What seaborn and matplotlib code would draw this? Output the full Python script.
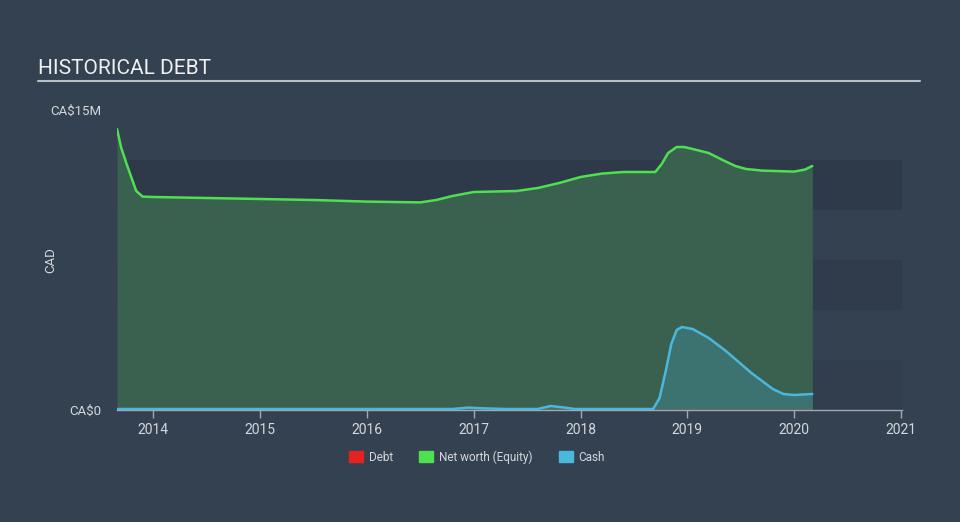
import matplotlib
matplotlib.use("Agg")
import matplotlib.pyplot as plt
import matplotlib.patches as mpatches
import seaborn as sns
import pandas as pd

# ---- data (values in CA$ millions) ----
nw_x = [2013.66, 2013.70, 2013.75, 2013.80, 2013.84, 2013.90, 2014.0, 2014.5, 2015.0,
        2015.5, 2016.0, 2016.5, 2016.65, 2016.8, 2017.0, 2017.4, 2017.6, 2017.8, 2018.0,
        2018.2, 2018.4, 2018.7, 2018.76, 2018.82, 2018.9, 2018.97, 2019.05, 2019.2,
        2019.35, 2019.45, 2019.55, 2019.7, 2020.0, 2020.1, 2020.17]
nw_y = [14.05, 13.1, 12.3, 11.55, 10.95, 10.67, 10.65, 10.6, 10.55,
        10.5, 10.42, 10.38, 10.5, 10.7, 10.9, 10.95, 11.1, 11.35, 11.65,
        11.82, 11.9, 11.9, 12.3, 12.85, 13.15, 13.15, 13.05, 12.85,
        12.45, 12.2, 12.05, 11.97, 11.92, 12.02, 12.2]
cash_x = [2013.66, 2014.0, 2015.0, 2016.0, 2016.8, 2016.95, 2017.1, 2017.3, 2017.6,
          2017.72, 2017.85, 2017.95, 2018.4, 2018.68, 2018.74, 2018.8, 2018.85,
          2018.9, 2018.95, 2019.05, 2019.2, 2019.35, 2019.6, 2019.8, 2019.9, 2020.0,
          2020.17]
cash_y = [0.05, 0.05, 0.05, 0.05, 0.05, 0.12, 0.08, 0.05, 0.05,
          0.2, 0.12, 0.05, 0.05, 0.05, 0.6, 2.0, 3.3,
          4.0, 4.15, 4.05, 3.6, 3.0, 1.85, 1.05, 0.8, 0.75,
          0.8]
debt_x = [2013.66, 2020.17]
debt_y = [0.0, 0.0]
year_ticks = [2014, 2015, 2016, 2017, 2018, 2019, 2020, 2021]
y_ticks = [0, 15]
y_tick_labels = ["CA$0", "CA$15M"]
legend_labels = ["Debt", "Net worth (Equity)", "Cash"]

BG = "#344150"
BANDS = {10: "#2e3a49", 5: "#303c4b", 0: "#323e4e"}
GREEN_LINE = "#4fe04f"
GREEN_FILL = "#3a6150"
CASH_LINE = "#4ab8dc"
CASH_FILL = "#3c7270"
DEBT = "#e52222"
TXT = "#d4d8de"
AXC = "#a0a8b4"

sns.set_theme(style="dark")
plt.rcParams["font.family"] = ["Roboto", "DejaVu Sans"]

fig = plt.figure(figsize=(9.6, 5.22), dpi=100, facecolor=BG)
ax = fig.add_axes([117/960, 1-410/522, (902-117)/960, 300/522])
ax.set_facecolor(BG)

for lo, c in BANDS.items():
    ax.axhspan(lo, lo + 2.5, color=c, lw=0, zorder=0)

nw = pd.DataFrame({"x": nw_x, "y": nw_y})
cash = pd.DataFrame({"x": cash_x, "y": cash_y})
debt = pd.DataFrame({"x": debt_x, "y": debt_y})

ax.fill_between(nw["x"], nw["y"], 0, color=GREEN_FILL, lw=0, zorder=1)
ax.fill_between(cash["x"], cash["y"], 0, color=CASH_FILL, lw=0, zorder=2)
sns.lineplot(data=debt, x="x", y="y", ax=ax, color=DEBT, lw=1, zorder=3)
sns.lineplot(data=nw, x="x", y="y", ax=ax, color=GREEN_LINE, lw=1.8, zorder=4)
sns.lineplot(data=cash, x="x", y="y", ax=ax, color=CASH_LINE, lw=1.8, zorder=5)

ax.set_xlim(2013.66, 2021.01)
ax.set_ylim(0, 15)
ax.set_xticks(year_ticks)
ax.set_xticklabels([str(y) for y in year_ticks], color=TXT, fontsize=10)
ax.set_yticks(y_ticks)
ax.set_yticklabels(y_tick_labels, color=TXT, fontsize=9.5)
ax.tick_params(axis="x", length=6, width=1, color=AXC, pad=3, bottom=True)
ax.tick_params(axis="y", length=0, pad=11)
for s in ["top", "right", "left"]:
    ax.spines[s].set_visible(False)
ax.spines["bottom"].set_color(AXC)
ax.spines["bottom"].set_linewidth(1)
ax.set_xlabel("")
ax.set_ylabel("CAD", color=TXT, fontsize=9.5)
ax.yaxis.set_label_coords((57-117)/785, 0.5)
ax.grid(False)

fig.text(38/960, 1-68/522, "HISTORICAL DEBT", color="#eef0f2", fontsize=15, va="center", ha="left")
fig.add_artist(plt.Line2D([38/960, 920/960], [1-81/522, 1-81/522], color="#b8bec6", lw=1.5))

handles = [mpatches.Patch(color=c, label=l) for c, l in zip([DEBT, GREEN_LINE, CASH_LINE], legend_labels)]
leg = fig.legend(handles=handles, loc="center", bbox_to_anchor=(477/960, 1-457/522), ncol=3,
                 frameon=False, fontsize=8.5, handlelength=1.2, handleheight=1.0,
                 columnspacing=2.2, handletextpad=0.5)
for t in leg.get_texts():
    t.set_color(TXT)

fig.savefig("out.png", dpi=100, facecolor=BG)
